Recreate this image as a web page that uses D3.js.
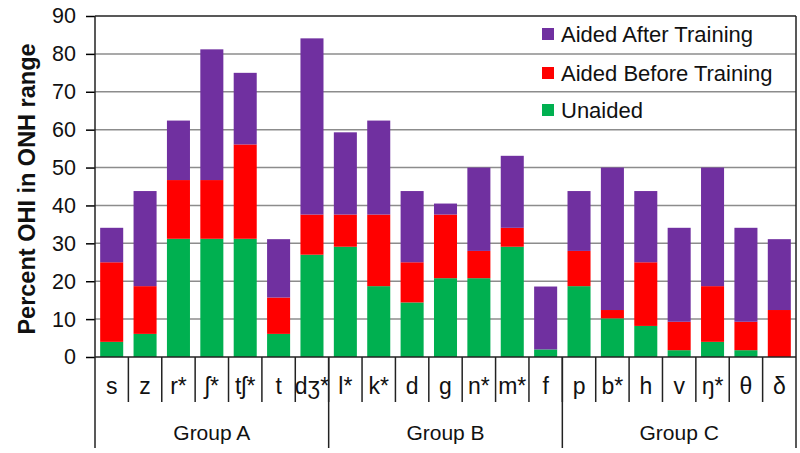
<!DOCTYPE html>
<html>
<head>
<meta charset="utf-8">
<script src="https://cdn.jsdelivr.net/npm/d3@7"></script>
<style>
  html, body { margin: 0; padding: 0; background: #fff; }
  svg { display: block; font-family: "Liberation Sans", Arial, sans-serif; }
</style>
</head>
<body>
<svg id="chart" width="800" height="453"></svg>
<script>
const categories = ["s","z","r*","ʃ*","tʃ*","t","dʒ*","l*","k*","d","g","n*","m*","f","p","b*","h","v","ŋ*","θ","δ"];
const groups = ["Group A","Group B","Group C"];
const groupSizes = [7, 7, 7];
const unaided      = [4, 6.1, 31.2, 31.2, 31.2, 6.1, 27, 29.1, 18.7, 14.4, 20.8, 20.8, 29.1, 2, 18.7, 10.2, 8.2, 1.8, 4, 1.8, 0];
const aidedBefore  = [21, 12.6, 15.5, 15.5, 24.9, 9.6, 10.6, 8.5, 18.9, 10.6, 16.8, 7.2, 5, 0, 9.3, 2.2, 16.8, 7.5, 14.7, 7.5, 12.4];
const aidedAfter   = [9.1, 25.1, 15.7, 34.5, 18.9, 15.4, 46.5, 21.7, 24.8, 18.8, 2.9, 22, 19, 16.6, 15.8, 37.6, 18.8, 24.8, 31.3, 24.8, 18.7];
const seriesNames  = ["Unaided", "Aided Before Training", "Aided After Training"];
const yTicks = [0, 10, 20, 30, 40, 50, 60, 70, 80, 90];

const colors = { "Unaided": "#00B050", "Aided Before Training": "#FF0000", "Aided After Training": "#7030A0" };

const svg = d3.select("#chart");
const pL = 95, pR = 796, pT = 16, pB = 357;

const rows = categories.map((c, i) => ({
  cat: c,
  "Unaided": unaided[i],
  "Aided Before Training": aidedBefore[i],
  "Aided After Training": aidedAfter[i]
}));

const x = d3.scaleBand().domain(categories).range([pL, pR]).paddingInner(0.31).paddingOuter(0.155);
const y = d3.scaleLinear().domain([0, 90]).range([pB, pT]);

// gridlines
svg.append("g").selectAll("line").data(yTicks.filter(t => t > 0 && t < 90)).join("line")
  .attr("x1", pL).attr("x2", pR)
  .attr("y1", d => y(d)).attr("y2", d => y(d))
  .attr("stroke", "#8c8c8c").attr("stroke-width", 1.5);

// stacked bars
const stack = d3.stack().keys(seriesNames)(rows);
svg.append("g").selectAll("g").data(stack).join("g")
  .attr("fill", d => colors[d.key])
  .selectAll("rect").data(d => d).join("rect")
  .attr("x", d => x(d.data.cat))
  .attr("width", x.bandwidth())
  .attr("y", d => y(d[1]))
  .attr("height", d => Math.max(0, y(d[0]) - y(d[1])));

// legend
const legendItems = ["Aided After Training", "Aided Before Training", "Unaided"];
const legendY = [34, 73, 110];
const lg = svg.append("g");
legendItems.forEach((name, i) => {
  lg.append("rect").attr("x", 542).attr("y", legendY[i] - 6).attr("width", 12).attr("height", 12).attr("fill", colors[name]);
  lg.append("text").attr("x", 561).attr("y", legendY[i]).attr("dy", "0.35em")
    .attr("font-size", 22).attr("fill", "#111").text(name);
});

// y axis
const yAxis = d3.axisLeft(y).tickValues(yTicks).tickSize(9).tickPadding(10).tickFormat(d3.format("d"));
const ya = svg.append("g").attr("transform", `translate(${pL},0)`).call(yAxis);
ya.select(".domain").remove();
ya.selectAll(".tick line").attr("stroke", "#000").attr("stroke-width", 1.5);
ya.selectAll(".tick text").attr("font-size", 21.5).attr("fill", "#111").attr("font-family", "Liberation Sans, Arial, sans-serif");

// frame
svg.append("line").attr("x1", pL).attr("x2", pR).attr("y1", pT).attr("y2", pT).attr("stroke", "#222").attr("stroke-width", 1.5);
svg.append("line").attr("x1", pR).attr("x2", pR).attr("y1", pT).attr("y2", 448).attr("stroke", "#222").attr("stroke-width", 1.5);
svg.append("line").attr("x1", pL).attr("x2", pL).attr("y1", pT).attr("y2", 448).attr("stroke", "#222").attr("stroke-width", 1.5);
svg.append("line").attr("x1", pL).attr("x2", pR).attr("y1", pB).attr("y2", pB).attr("stroke", "#222").attr("stroke-width", 1.5);

// category separators and labels
const step = x.step();
const catBounds = categories.map((c, i) => pL + i * step);
svg.append("g").selectAll("line").data(catBounds.slice(1)).join("line")
  .attr("x1", d => d).attr("x2", d => d).attr("y1", pB).attr("y2", 402)
  .attr("stroke", "#222").attr("stroke-width", 1.5);
svg.append("g").selectAll("text").data(categories).join("text")
  .attr("x", d => x(d) + x.bandwidth() / 2)
  .attr("y", 394)
  .attr("text-anchor", "middle")
  .attr("font-size", 23).attr("fill", "#111")
  .text(d => d);

// group separators and labels
let acc = 0;
const groupInfo = groups.map((g, i) => {
  const start = acc; acc += groupSizes[i];
  return { name: g, x0: pL + start * step, x1: pL + acc * step };
});
svg.append("g").selectAll("line").data(groupInfo.slice(1)).join("line")
  .attr("x1", d => d.x0).attr("x2", d => d.x0).attr("y1", pB).attr("y2", 448)
  .attr("stroke", "#222").attr("stroke-width", 1.5);
svg.append("g").selectAll("text").data(groupInfo).join("text")
  .attr("x", d => (d.x0 + d.x1) / 2)
  .attr("y", 440)
  .attr("text-anchor", "middle")
  .attr("font-size", 21).attr("fill", "#111")
  .text(d => d.name);

// y title
svg.append("text")
  .attr("transform", "translate(35,189) rotate(-90)")
  .attr("text-anchor", "middle")
  .attr("font-size", 23.5).attr("font-weight", "bold").attr("fill", "#111")
  .text("Percent OHI in ONH range");
</script>
</body>
</html>
